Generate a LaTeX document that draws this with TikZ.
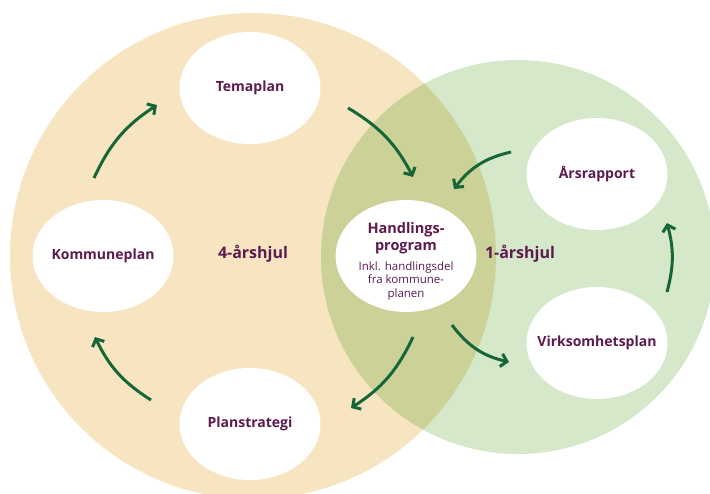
\documentclass[tikz,border=0pt]{standalone}
\usepackage{fontspec}
\setmainfont{Open Sans}
\usetikzlibrary{shapes.geometric,arrows.meta}
\definecolor{orangebg}{HTML}{F6E5C0}
\definecolor{greenbg}{HTML}{D5E8C9}
\definecolor{olivebg}{HTML}{CBD197}
\definecolor{arrowgreen}{HTML}{17663A}
\definecolor{textpurple}{HTML}{5C1A4E}
\tikzset{
  stage/.style={ellipse, fill=white, minimum width=141pt, minimum height=112pt,
    inner xsep=-14pt, inner ysep=0pt,
    font=\bfseries\fontsize{14}{14}\selectfont, text=textpurple, align=center},
  wheel/.style={font=\bfseries\fontsize{16}{16}\selectfont, text=textpurple},
  title/.style={inner sep=0pt, anchor=north, align=center, text=textpurple,
    font=\bfseries\fontsize{14.5}{17}\selectfont},
  subtext/.style={inner sep=0pt, anchor=north, align=center, text=textpurple,
    font=\mdseries\fontsize{11.5}{13.5}\selectfont},
  flow/.style={draw=arrowgreen, line width=3pt, -{Straight Barb[length=6pt,width=13pt,line width=3pt]}}
}
\begin{document}
\begin{tikzpicture}[x=1pt,y=-1pt]
\useasboundingbox (0,0) rectangle (710,493);
\fill[orangebg] (253,256) circle[radius=243];
\fill[greenbg] (518,257) circle[radius=197];
\begin{scope}
  \clip (253,256) circle[radius=243];
  \fill[olivebg] (518,257) circle[radius=197];
\end{scope}
\node[stage] (tema) at (250,88) {Temaplan};
\node[stage] (kom) at (103,256) {Kommuneplan};
\node[stage] (plan) at (250,424) {Planstrategi};
\node[stage] (hand) at (406,256) {};
\node[title] (handtitle) at (406,222) {Handlings-\\program};
\node[subtext] (handsub) at (406,261.5) {Inkl. handlingsdel\\fra kommune-\\planen};
\node[stage] (ars) at (597,174) {Årsrapport};
\node[stage] (virk) at (597,343) {Virksomhetsplan};
\node[wheel] (four) at (253,254) {4-årshjul};
\node[wheel] (one) at (520,254) {1-årshjul};
\coordinate (k1) at (94,178);  \coordinate (t0) at (157,105);
\coordinate (t1) at (348,108); \coordinate (h0) at (413,177);
\coordinate (a1) at (511,152); \coordinate (h1) at (454,189);
\coordinate (v1) at (667,292); \coordinate (a0) at (667,223);
\coordinate (h2) at (452,325); \coordinate (v0) at (509,362);
\coordinate (h3) at (413,337); \coordinate (p0) at (351,408);
\coordinate (p1) at (151,400); \coordinate (k0) at (95,337);
\draw[flow] (k1) to[bend left=16] (t0);
\draw[flow] (t1) to[bend left=16] (h0);
\draw[flow] (a1) to[bend right=20] (h1);
\draw[flow] (v1) to[bend right=15] (a0);
\draw[flow] (h2) to[bend right=20] (v0);
\draw[flow] (h3) to[bend left=16] (p0);
\draw[flow] (p1) to[bend left=16] (k0);
\end{tikzpicture}
\end{document}
